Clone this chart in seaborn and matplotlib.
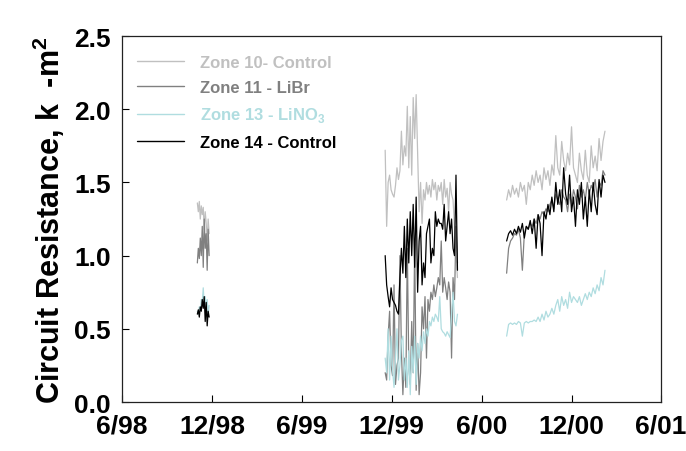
import pandas as pd
import seaborn as sns
import matplotlib.pyplot as plt


# zones and their colours
zones = ['Zone 10- Control', 'Zone 11 - LiBr', 'Zone 13 - LiNO$_\\mathbf{3}$', 'Zone 14 - Control']
colors = ['#c0c0c0', '#808080', '#b0dde0', '#000000']

tick_dates = ['1998-06-01', '1998-12-01', '1999-06-01', '1999-12-01',
              '2000-06-01', '2000-12-01', '2001-06-01']
tick_labels = ['6/98', '12/98', '6/99', '12/99', '6/00', '12/00', '6/01']

# period 1: Nov 1998, every 2 days
dates1 = pd.date_range('1998-11-01', periods=13, freq='2D')
z10_p1 = [1.36, 1.30, 1.37, 1.25, 1.34, 1.28, 1.33, 1.18, 1.30, 1.22, 1.10, 1.25, 1.15]
z11_p1 = [0.95, 1.05, 0.98, 1.12, 1.00, 1.20, 0.92, 1.25, 1.05, 1.15, 0.90, 1.18, 1.00]
z13_p1 = [0.62, 0.60, 0.65, 0.63, 0.70, 0.68, 0.78, 0.66, 0.72, 0.64, 0.70, 0.60, 0.66]
z14_p1 = [0.60, 0.63, 0.58, 0.65, 0.62, 0.70, 0.64, 0.72, 0.55, 0.68, 0.52, 0.62, 0.58]

# period 2: Nov 1999 - Apr 2000, every 3 days
dates2 = pd.date_range('1999-11-18', periods=50, freq='3D')
z10_p2 = [1.72, 1.20, 1.50, 1.55, 1.45, 1.42, 1.40, 1.48, 1.60, 1.52, 1.58,
          1.85, 1.62, 1.75, 1.68, 2.02, 1.60, 1.95, 1.55, 2.08, 1.80, 2.10, 1.70, 1.30,
          1.50, 1.22, 1.45, 1.38, 1.50, 1.42, 1.48, 1.40, 1.52, 1.45, 1.50, 1.38, 1.48,
          1.44, 1.50, 1.35, 1.52, 1.40, 1.46, 1.30, 1.50, 1.42, 1.38, 1.20, 1.00, 0.85]
z11_p2 = [0.20, 0.15, 0.45, 0.62, 0.25, 0.18, 0.80, 0.12, 0.25, 0.30, 1.00,
          0.35, 0.05, 0.30, 0.10, 1.05, 0.25, 0.12, 0.55, 0.20, 1.08, 0.08, 0.40, 0.05,
          0.20, 0.65, 0.50, 0.72, 0.30, 0.70, 0.62, 0.75, 0.70, 0.80, 0.72, 0.78, 0.85,
          0.80, 1.10, 0.75, 0.85, 0.78, 0.70, 0.82, 0.75, 0.30, 0.85, 0.70, 1.20, 0.95]
z13_p2 = [0.30, 0.20, 0.50, 0.15, 0.45, 0.22, 0.10, 0.30, 0.50, 0.15, 0.25,
          0.42, 0.45, 0.15, 0.30, 0.10, 0.35, 0.05, 0.38, 0.20, 0.45, 0.12, 0.40, 0.30,
          0.45, 0.35, 0.48, 0.40, 0.50, 0.45, 0.55, 0.52, 0.58, 0.55, 0.60, 0.58, 0.55,
          0.72, 0.50, 0.48, 0.47, 0.45, 0.48, 0.46, 0.44, 0.60, 0.75, 0.55, 0.52, 0.60]
z14_p2 = [1.00, 0.80, 0.72, 0.65, 0.78, 0.70, 0.68, 0.66, 0.62, 0.60, 0.85,
          1.05, 0.88, 1.20, 0.85, 1.25, 0.95, 1.30, 1.00, 1.35, 0.92, 1.40, 0.75, 1.10,
          1.20, 0.80, 0.95, 0.85, 1.15, 1.20, 1.25, 0.95, 1.05, 1.00, 1.30, 1.20, 1.25,
          1.22, 1.22, 1.18, 1.35, 1.10, 1.20, 1.30, 1.15, 1.25, 1.05, 1.00, 1.55, 0.90]

# period 3: Jul 2000 - Feb 2001, every 4 days
dates3 = pd.date_range('2000-07-22', periods=51, freq='4D')
z10_p3 = [1.38, 1.45, 1.40, 1.48, 1.42, 1.46, 1.40, 1.50, 1.44, 1.48, 1.35, 1.50, 1.45,
          1.55, 1.48, 1.58, 1.50, 1.55,
          1.45, 1.60, 1.52, 1.58, 1.48, 1.62, 1.55, 1.82, 1.60, 1.55, 1.78, 1.65, 1.58,
          1.70, 1.62, 1.88, 1.60,
          1.55, 1.50, 1.70, 1.58, 1.52, 1.72, 1.55, 1.50, 1.75, 1.60, 1.68, 1.58, 1.80,
          1.65, 1.78, 1.85]
z11_p3 = [0.88, 1.05, 1.10, 1.12, 1.15, 1.14, 1.18, 1.12, 0.90, 1.15, 1.20, 1.18, 1.22,
          1.20, 1.25, 1.22, 1.28, 1.25,
          1.30, 1.28, 1.32, 1.30, 1.35, 1.38, 1.32, 1.42, 1.38, 1.35, 1.45, 1.40, 1.38,
          1.30, 1.42, 1.35, 1.45,
          1.40, 1.32, 1.48, 1.40, 1.45, 1.38, 1.50, 1.42, 1.48, 1.45, 1.52, 1.40, 1.50,
          1.48, 1.58, 1.55]
z13_p3 = [0.45, 0.53, 0.54, 0.53, 0.54, 0.53, 0.55, 0.54, 0.45, 0.54, 0.55, 0.54, 0.55,
          0.55, 0.56, 0.55, 0.58, 0.55,
          0.60, 0.56, 0.62, 0.58, 0.60, 0.64, 0.60, 0.66, 0.70, 0.62, 0.72, 0.66, 0.70,
          0.64, 0.75, 0.68, 0.72,
          0.70, 0.68, 0.72, 0.66, 0.70, 0.74, 0.70, 0.75, 0.72, 0.78, 0.74, 0.80, 0.76,
          0.85, 0.80, 0.90]
z14_p3 = [1.10, 1.15, 1.17, 1.14, 1.18, 1.15, 1.20, 1.16, 1.22, 1.12, 1.20, 1.18, 1.24,
          1.15, 1.25, 1.05, 1.28, 1.22,
          1.00, 1.30, 1.25, 1.35, 1.28, 1.40, 1.30, 1.50, 1.35, 1.45, 1.30, 1.60, 1.42,
          1.35, 1.55, 1.30, 1.40,
          1.20, 1.45, 1.35, 1.50, 1.25, 1.40, 1.20, 1.45, 1.30, 1.50, 1.35, 1.28, 1.52,
          1.40, 1.55, 1.50]

periods = [(dates1, [z10_p1, z11_p1, z13_p1, z14_p1]),
           (dates2, [z10_p2, z11_p2, z13_p2, z14_p2]),
           (dates3, [z10_p3, z11_p3, z13_p3, z14_p3])]

frames = []
for i, (d, series) in enumerate(periods):
    for zone, vals in zip(zones, series):
        frames.append(pd.DataFrame({'date': d, 'resistance': vals,
                                    'zone': zone, 'period': i}))
df = pd.concat(frames, ignore_index=True)

sns.set_style('ticks')
plt.rcParams['font.family'] = ['Liberation Sans', 'DejaVu Sans']
plt.rcParams['font.weight'] = 'bold'
plt.rcParams['text.color'] = 'black'
plt.rcParams['axes.labelcolor'] = 'black'
plt.rcParams['xtick.color'] = 'black'
plt.rcParams['ytick.color'] = 'black'
plt.rcParams['mathtext.fontset'] = 'custom'
plt.rcParams['mathtext.rm'] = 'Liberation Sans:bold'
plt.rcParams['mathtext.bf'] = 'Liberation Sans:bold'

fig, ax = plt.subplots(figsize=(6.86, 4.52), dpi=100)
fig.subplots_adjust(left=0.178, right=0.9636, bottom=0.1084, top=0.918)

sns.lineplot(data=df, x='date', y='resistance', hue='zone', units='period',
             estimator=None, palette=colors, hue_order=zones, linewidth=0.9, ax=ax)

ax.set_xlim(pd.Timestamp(tick_dates[0]), pd.Timestamp(tick_dates[-1]))
ax.set_xticks(pd.to_datetime(tick_dates))
ax.set_xticklabels(tick_labels)
ax.set_ylim(0, 2.5)
ax.set_yticks([0, 0.5, 1.0, 1.5, 2.0, 2.5])
ax.set_yticklabels(['0.0', '0.5', '1.0', '1.5', '2.0', '2.5'])
ax.tick_params(direction='in', length=5, width=0.8, labelsize=19, pad=8,
               top=False, right=False, colors='black')
for lab in ax.get_xticklabels() + ax.get_yticklabels():
    lab.set_fontweight('bold')
for sp in ax.spines.values():
    sp.set_color('#222222')
    sp.set_linewidth(0.9)

ax.set_xlabel('')
ax.set_ylabel('Circuit Resistance, k  -m$^\\mathbf{2}$', fontsize=22,
              fontweight='bold', labelpad=5, color='black')

leg = ax.legend(loc='upper left', bbox_to_anchor=(0.0, 0.99), frameon=False,
                prop={'weight': 'bold', 'size': 12}, handlelength=2.8,
                labelspacing=0.62, handletextpad=1.0)
for txt, c in zip(leg.get_texts(), colors):
    txt.set_color(c)
for ln in leg.get_lines():
    ln.set_linewidth(1.0)

plt.savefig('out.png', dpi=100)
